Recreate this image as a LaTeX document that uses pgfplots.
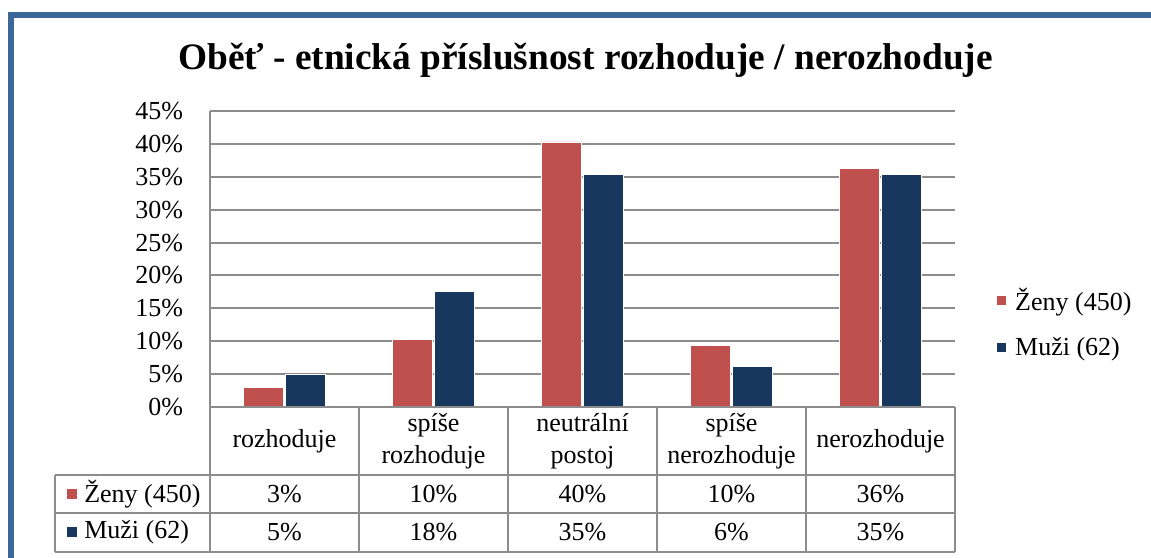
\documentclass[border=0pt]{standalone}
\usepackage{pgfplots}
\pgfplotsset{compat=1.18}
\usepackage{fontspec}
\setmainfont{Liberation Serif}
\definecolor{zred}{HTML}{C0504D}
\definecolor{mblue}{HTML}{17375E}
\definecolor{frameblue}{HTML}{3C6799}
\definecolor{gridgray}{HTML}{8C8C8C}
\newcommand{\tf}{\fontsize{19.5pt}{24pt}\selectfont}
\begin{document}
\begin{tikzpicture}
\useasboundingbox (0,0) rectangle (863.25pt,-417.75pt);
\begin{scope}[x=0.75pt,y=-0.75pt]
\begin{scope}
\clip (0,0) rectangle (1151,557);
\draw[frameblue,line width=4.5pt] (11,600) -- (11,14.5) -- (1200,14.5);
\end{scope}
\node[font=\fontsize{28pt}{34pt}\selectfont\bfseries] at (585.5,60) {Oběť - etnická příslušnost rozhoduje / nerozhoduje};
\end{scope}
\begin{axis}[
  at={(157.5pt,-305.25pt)}, anchor=south west,
  scale only axis, width=558.75pt, height=222pt,
  ymin=0, ymax=45, xmin=-0.5, xmax=4.5,
  ytick={0,5,...,45},
  yticklabels={0\%,5\%,10\%,15\%,20\%,25\%,30\%,35\%,40\%,45\%},
  yticklabel style={font=\tf, inner sep=0pt, xshift=-20pt},
  xtick=\empty,
  ymajorgrids, grid style={gridgray,line width=1.5pt},
  major tick length=0pt,
  axis y line*=left, axis x line*=bottom,
  axis line style={gridgray,line width=1.5pt},
  ybar=1.5pt, bar width=30pt,
  legend style={at={(1.05,0.284)}, anchor=west, draw=none, fill=none, font=\tf, row sep=15pt},
  legend cell align=left,
  legend image code/.code={\draw[#1,/tikz/.cd,draw=none] (0pt,-3.4pt) rectangle (6.8pt,3.4pt) (12pt,0pt);},
]
\addplot[fill=zred, draw=white, line width=0.6pt] coordinates {(0,3.0) (1,10.3) (2,40.3) (3,9.4) (4,36.3)};
\addplot[fill=mblue, draw=white, line width=0.6pt] coordinates {(0,4.9) (1,17.6) (2,35.4) (3,6.2) (4,35.4)};
\legend{Ženy (450), Muži (62)}
\end{axis}
\begin{scope}[x=0.75pt,y=-0.75pt]
\draw[gridgray,line width=1.5pt] (210,407) -- (955,407);
\draw[gridgray,line width=1.5pt] (55,475) -- (955,475);
\draw[gridgray,line width=1.5pt] (55,513) -- (955,513);
\draw[gridgray,line width=1.5pt] (55,552) -- (955,552);
\draw[gridgray,line width=1.5pt] (55,475) -- (55,552);
\foreach \x in {210,359,508,657,806,955} \draw[gridgray,line width=1.5pt] (\x,407) -- (\x,552);
\begin{scope}[every node/.style={font=\tf, align=center, inner sep=0pt}]
\node at (284.5,441) {rozhoduje};
\node at (433.5,441) {spíše\\rozhoduje};
\node at (582.5,441) {neutrální\\postoj};
\node at (731.5,441) {spíše\\nerozhoduje};
\node at (880.5,441) {nerozhoduje};
\node[anchor=west] at (84,494) {Ženy (450)};
\node[anchor=west] at (84,532) {Muži (62)};
\foreach \x/\v in {284.5/3\%,433.5/10\%,582.5/40\%,731.5/10\%,880.5/36\%} \node at (\x,494) {\v};
\foreach \x/\v in {284.5/5\%,433.5/18\%,582.5/35\%,731.5/6\%,880.5/35\%} \node at (\x,532) {\v};
\end{scope}
\fill[zred] (67,489) rectangle (77,499);
\fill[mblue] (67,527) rectangle (77,537);
\end{scope}
\end{tikzpicture}
\end{document}
